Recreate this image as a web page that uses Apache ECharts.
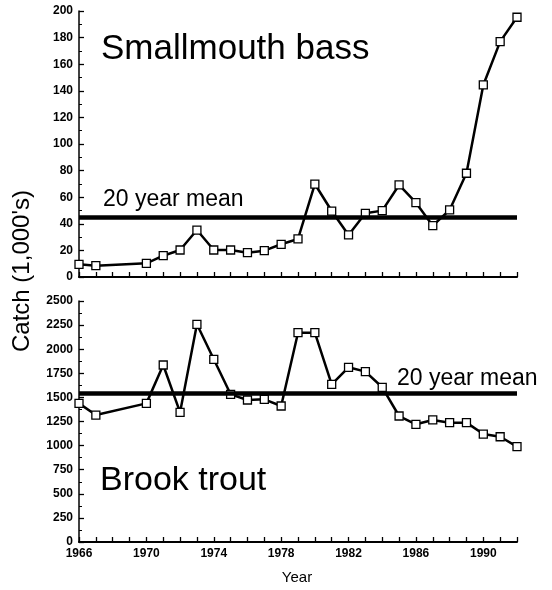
<!DOCTYPE html>
<html>
<head>
<meta charset="utf-8">
<script src="https://cdn.jsdelivr.net/npm/echarts@6/dist/echarts.min.js"></script>
<style>
html,body{margin:0;padding:0;background:#fff;}
#c{width:552px;height:590px;}
</style>
</head>
<body>
<div id="c"></div>
<script>
var years = [1966,1967,1970,1971,1972,1973,1974,1975,1976,1977,1978,1979,1980,1981,1982,1983,1984,1985,1986,1987,1988,1989,1990,1991,1992];
var bassCatch = [9.5,8.5,10.3,16,20.3,35.3,20.3,20.3,18.3,19.8,24.6,28.6,69.9,49.6,31.6,47.9,49.9,69.2,55.9,38.6,50.4,78,144.4,177,195.3];
var troutCatch = [1438,1317,1438,1836,1345,2258,1895,1532,1473,1480,1411,2171,2171,1636,1812,1767,1605,1307,1221,1266,1238,1238,1120,1092,989];
var bassMean = 45.3;
var troutMean = 1540;
var labelYears = [1966,1970,1974,1978,1982,1986,1990];
var bassTicks = [0,20,40,60,80,100,120,140,160,180,200];
var troutTicks = [0,250,500,750,1000,1250,1500,1750,2000,2250,2500];

var FONT = '"Liberation Sans", Arial, Helvetica, sans-serif';

function pairs(vals){ return years.map(function(y,i){ return [y, vals[i]]; }); }

var chart = echarts.init(document.getElementById('c'), null, {renderer:'canvas'});

function xAxisCfg(idx, showLabels){
  return {
    type:'value', gridIndex: idx, min:1966, max:1992, interval:1,
    axisLine:{show:true, onZero:false, lineStyle:{color:'#000', width:2}},
    axisTick:{show:true, inside:true, length:5, lineStyle:{color:'#000', width:1.3}},
    splitLine:{show:false},
    axisLabel:{show:showLabels, color:'#000', fontFamily:FONT, fontWeight:'bold', fontSize:12, margin:6,
      formatter:function(v){ return labelYears.indexOf(v) >= 0 ? String(v) : ''; }}
  };
}
function yAxisCfg(idx, ticks){
  var step = ticks[1]-ticks[0];
  return {
    type:'value', gridIndex: idx, min:ticks[0], max:ticks[ticks.length-1], interval:step,
    axisLine:{show:true, onZero:false, lineStyle:{color:'#000', width:1.5}},
    axisTick:{show:true, inside:true, length:5, lineStyle:{color:'#000', width:1.3}},
    minorTick:{show:true, splitNumber:2, length:3, lineStyle:{color:'#000', width:1}},
    splitLine:{show:false},
    axisLabel:{show:true, color:'#000', fontFamily:FONT, fontWeight:'bold', fontSize:12, margin:6,
      formatter:function(v){ return ticks.indexOf(v) >= 0 ? String(v) : ''; }}
  };
}
function seriesCfg(idx, vals, mean){
  return {
    type:'line', xAxisIndex: idx, yAxisIndex: idx, data: pairs(vals),
    symbol:'rect', symbolSize:8, showSymbol:true,
    lineStyle:{color:'#000', width:2.5},
    itemStyle:{color:'#fff', borderColor:'#000', borderWidth:1.3},
    z: 3,
    markLine:{silent:true, symbol:'none', label:{show:false}, animation:false,
      lineStyle:{color:'#000', width:4.5, type:'solid'},
      data:[{yAxis: mean}]}
  };
}

var option = {
  animation:false,
  backgroundColor:'#fff',
  grid:[
    {left:79, top:11, width:438, height:266},
    {left:79, top:301, width:438, height:241}
  ],
  xAxis:[xAxisCfg(0,false), xAxisCfg(1,true)],
  yAxis:[yAxisCfg(0,bassTicks), yAxisCfg(1,troutTicks)],
  series:[seriesCfg(0,bassCatch,bassMean), seriesCfg(1,troutCatch,troutMean)],
  graphic:[
    {type:'text', left:101, top:32, style:{text:'Smallmouth bass', fill:'#000', font:'35px '+FONT}},
    {type:'text', left:100, top:464, style:{text:'Brook trout', fill:'#000', font:'34px '+FONT}},
    {type:'text', left:103, top:188, style:{text:'20 year mean', fill:'#000', font:'23px '+FONT}},
    {type:'text', left:397, top:367, style:{text:'20 year mean', fill:'#000', font:'23px '+FONT}},
    {type:'text', x:22, y:271, rotation:Math.PI/2, style:{text:"Catch (1,000's)", fill:'#000', font:'24px '+FONT, align:'center', verticalAlign:'middle'}},
    {type:'text', x:297, y:578, style:{text:'Year', fill:'#000', font:'15px '+FONT, align:'center', verticalAlign:'middle'}}
  ]
};
chart.setOption(option);
</script>
</body>
</html>
